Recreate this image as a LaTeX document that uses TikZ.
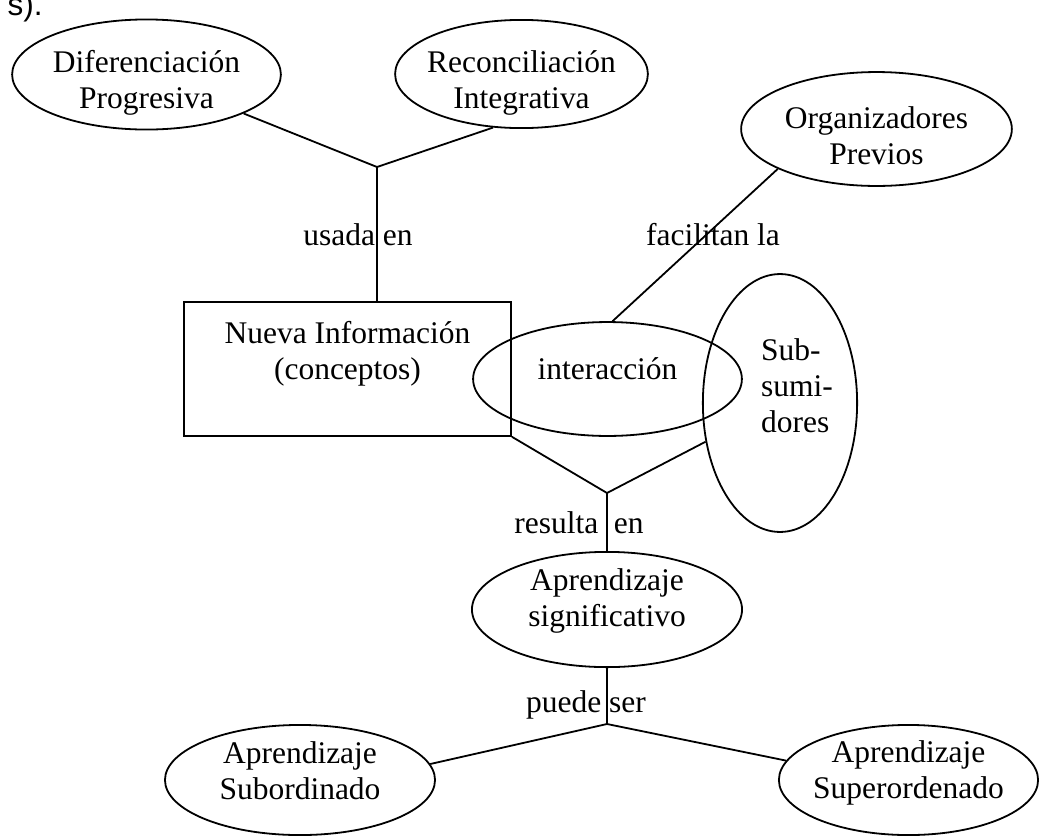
\documentclass[tikz,border=0pt]{standalone}
\usepackage{fontspec}
\setmainfont{Liberation Serif}
\newfontfamily\fragfont{Liberation Sans}
\usetikzlibrary{shapes}
% two centred lines, #1 height of the first, #2 depth of the last
\newcommand{\twoline}[4]{\rule{0pt}{#1}#3\\#4\rule[-#2]{0pt}{#2}}

\begin{document}
\begin{tikzpicture}[x=0.015625cm, y=-0.015625cm,
		every node/.style={font=\fontsize{14}{16.1}\selectfont},
		oval/.style={draw, thick, ellipse, align=center, inner xsep=-3pt, inner ysep=-4pt},
		box/.style={draw, thick, rectangle, align=center, inner sep=0pt},
		link/.style={thick},
		word/.style={anchor=base, inner sep=0pt}]
				\useasboundingbox (0,0) rectangle (1039,836);
				\clip (0,0) rectangle (1039,836);
				\node[anchor=base east, inner sep=0pt, font=\fragfont\fontsize{14}{16}\selectfont] (frag) at (43,15) {s).};
				% concepts
				\node[oval, minimum width=4.20cm, minimum height=1.72cm] (dif) at (146.5,74.5) {\twoline{17.52pt}{3.2pt}{Diferenciación}{Progresiva}};
				\node[oval, minimum width=3.95cm, minimum height=1.69cm] (rec) at (521.5,74) {\twoline{17.52pt}{3.2pt}{Reconciliación}{Integrativa}};
				\node[oval, minimum width=4.23cm, minimum height=1.78cm] (org) at (876.5,129) {\twoline{18.42pt}{3.2pt}{Organizadores}{Previos}};
				\node[box, minimum width=5.11cm, minimum height=2.09cm] (nueva) at (347.5,369) {\twoline{11pt}{18.02pt}{Nueva Información}{(conceptos)}};
				\node[oval, minimum width=4.20cm, minimum height=1.78cm] (inter) at (607.5,379) {\rule[-10.1pt]{0pt}{21pt}interacción};
				\node[oval, minimum width=2.41cm, minimum height=4.03cm] (subs) at (780,403) {};
				\node[align=left, inner sep=0pt] (subsname) at (797,385.5) {Sub-\\sumi-\\dores};
				\node[oval, minimum width=4.22cm, minimum height=1.80cm] (signif) at (607,609.5) {\twoline{10.5pt}{11.74pt}{Aprendizaje}{significativo}};
				\node[oval, minimum width=4.22cm, minimum height=1.72cm] (subord) at (300,780) {\twoline{10.5pt}{9.52pt}{Aprendizaje}{Subordinado}};
				\node[oval, minimum width=4.05cm, minimum height=1.72cm] (super) at (908.5,780) {\twoline{10.5pt}{10.4pt}{Aprendizaje}{Superordenado}};
				% joins
				\coordinate (jtop) at (377,167);
				\coordinate (jmid) at (607,493);
				\coordinate (jlow) at (607,724);
				\draw[link] (dif) -- (jtop) -- (rec.242);
				\draw[link] (jtop) -- (jtop |- nueva.north);
				\draw[link] (org.202) -- (inter.85);
				\draw[link] (nueva.south east) -- (jmid) -- (subs);
				\draw[link] (jmid) -- (signif);
				\draw[link] (signif) -- (jlow);
				\draw[link] (subord.7) -- (jlow) -- (super.171);
				% linking words
				\node[word] (usada) at (358,245) {usada en};
				\node[word] (facilitan) at (713,245) {facilitan la};
				\node[word] (resulta) at (579,533) {resulta\ \ en};
				\node[word] (puede) at (586,712) {puede ser};
\end{tikzpicture}
\end{document}
